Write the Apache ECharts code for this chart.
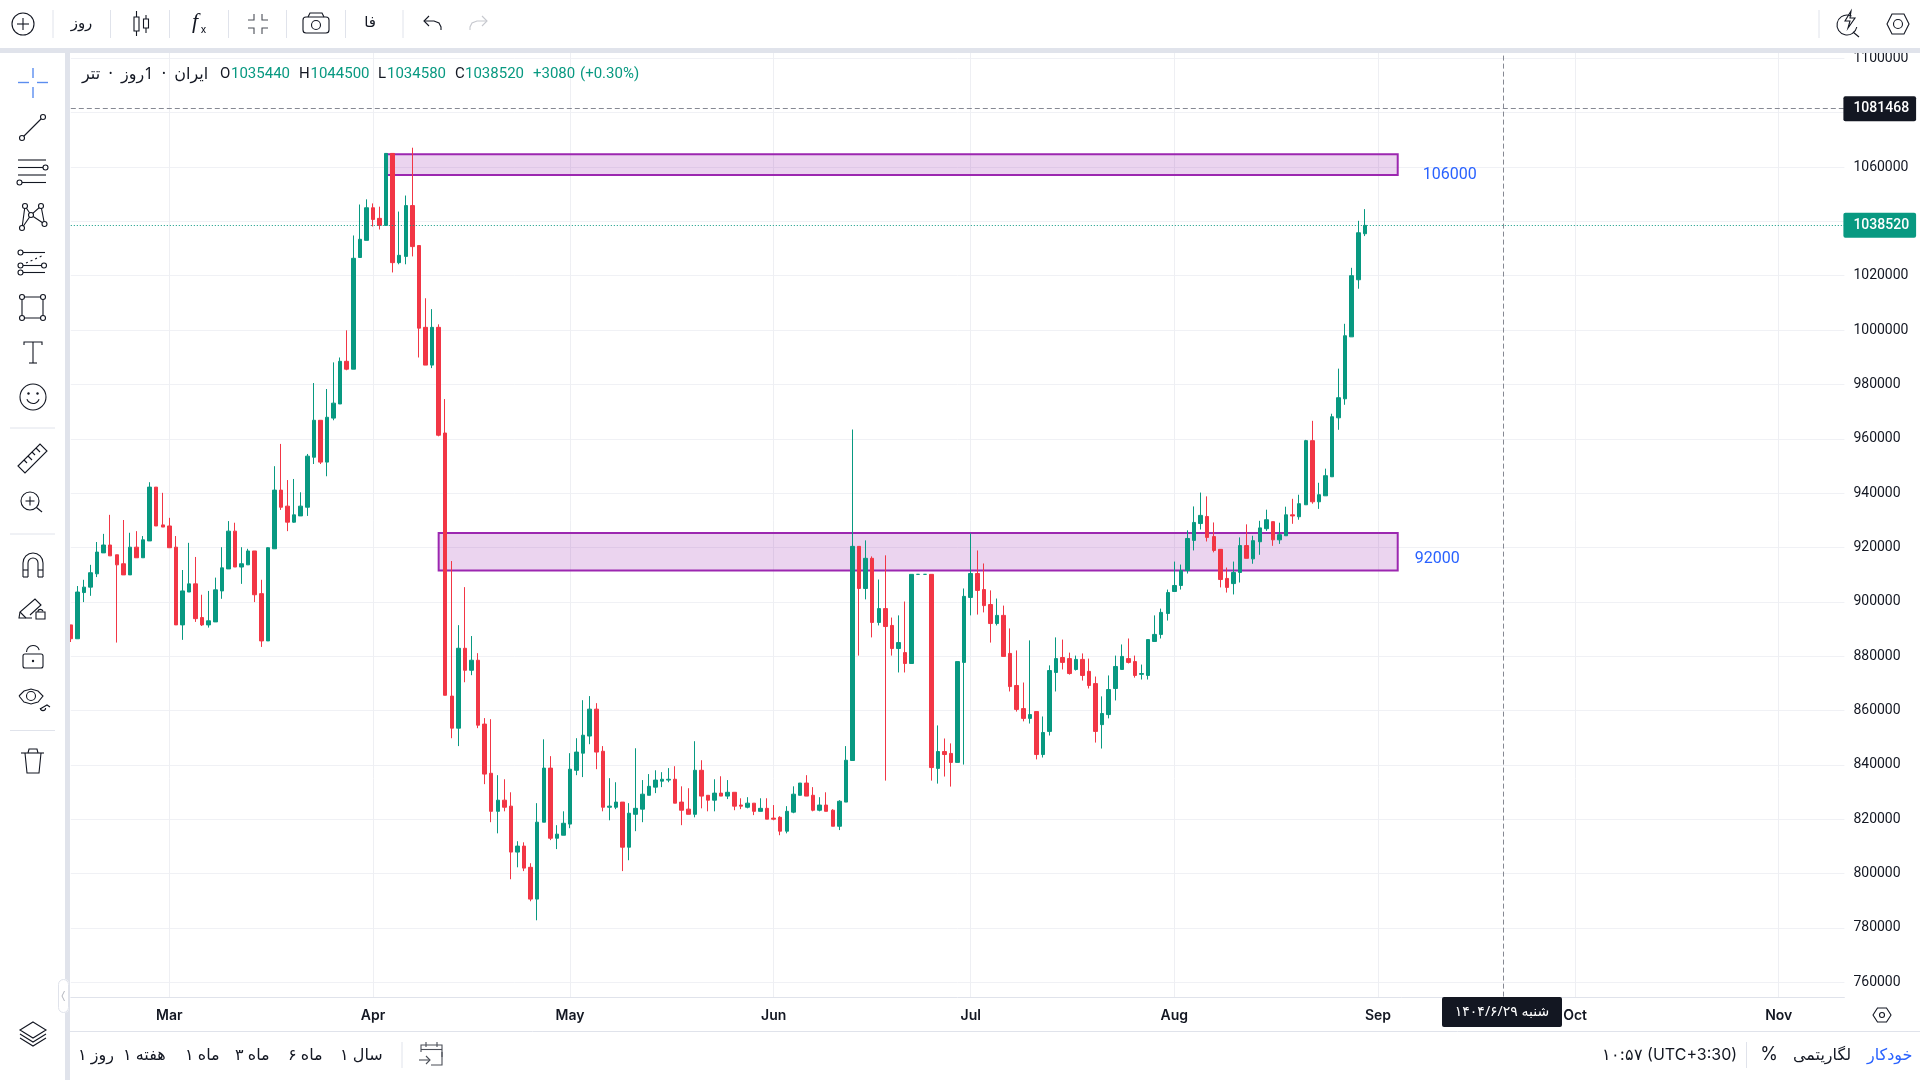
<!DOCTYPE html>
<html lang="fa">
<head>
<meta charset="utf-8">
<title>ایران · 1روز · تتر</title>
<style>html,body{margin:0;padding:0;background:#fff}#chart{width:1920px;height:1080px}</style>
<script src="https://cdn.jsdelivr.net/npm/echarts@6/dist/echarts.min.js"></script>
</head>
<body>
<div id="chart"></div>
<script>
// Daily prices, starting 14 Feb 2025
const opens = [
891500,886400,903400,905400,910300,918000,920900,917300,914000,909900,
920100,916200,922400,942200,928300,927900,920100,891500,903600,906600,
894200,891500,892600,904000,912100,926000,912800,913600,918700,903000,
885600,919500,941100,935200,929300,931600,934800,953200,966800,951400,
967600,972800,988500,985600,1026700,1033000,1045000,1041100,1038500,1065000,
1024800,1027100,1045800,1031100,1001000,987100,1001000,962100,865300,853500,
882900,874800,878500,855000,836900,822900,827000,824800,807900,810100,
802300,790600,818900,838800,813000,814100,818200,838000,844300,850600,
860500,845000,824400,824400,826300,809700,821800,823700,828800,831800,
834000,834400,834700,826300,823700,821800,838000,828800,827000,829600,
828500,829900,825200,824400,825900,822900,824000,820400,820700,815600,
822600,828800,833300,828800,823300,825200,823300,817400,826300,841600,
920400,904900,916000,892400,897500,891300,882800,881300,877300,910100,
910100,910100,838700,844900,844200,840900,877700,901600,910400,904500,
899000,892000,895000,881000,869200,860700,857100,859600,843800,852300,
874000,879500,879100,875100,878800,874400,869900,854800,858500,868100,
875100,879100,878000,873300,872900,885400,888000,895700,903800,906000,
911500,922600,928800,931400,924000,919300,908600,906700,910800,920700,
915800,922100,926900,929500,922800,924300,932000,931300,935700,959300,
936800,939000,946000,967700,974700,997500,1018500,1035440];
const highs = [
891500,905800,908100,913600,922000,925000,932000,917300,930100,925400,
926000,924200,944000,942200,940100,930900,924200,911700,921700,916500,
902600,904000,908900,920100,929700,929100,920100,919500,918700,908100,
920100,949900,958100,944800,945200,940300,954400,980500,966800,978300,
988100,989900,999900,1034800,1046200,1048100,1046600,1045400,1065000,1065000,
1043600,1049500,1067100,1031100,1011700,1007700,1002100,974600,915000,891400,
905400,887400,881100,857200,856800,836200,834700,829900,811900,811500,
803800,825900,849400,843200,817800,822900,844300,849800,863800,865300,
862700,846900,835100,833600,826300,825900,846100,834400,836600,838000,
837300,838800,839500,832100,831400,848700,841700,828800,834700,835800,
834400,829900,827700,828100,825900,827700,827700,825200,821100,824800,
832100,833300,836200,831800,828100,829900,823700,827000,846900,963400,
920400,922600,916700,908200,917100,894200,895000,900100,910100,910100,
910100,910100,854500,849700,847900,878000,904900,925200,918900,914100,
904200,901200,898600,890200,882100,870300,885800,859600,857800,876600,
886900,886100,881300,880200,881000,879100,872500,865200,872900,880200,
884300,886500,880200,876900,886100,895000,897500,904500,914800,913700,
926300,935100,940200,938800,929200,919300,912600,914800,923700,928500,
924300,929800,933900,929500,929100,935000,937900,939400,959600,966600,
943800,949000,969200,985800,1002300,1022900,1040200,1044500];
const lows = [
885200,886400,899900,902200,909100,918000,916900,885000,909900,909900,
916200,916200,922400,927900,927500,919900,891500,886000,903600,892600,
891100,890500,892600,901100,912100,912800,906600,913600,899900,883400,
885600,919500,933800,926000,929100,931600,931600,950700,950700,946200,
966800,972800,985200,985600,1026700,1033000,1038100,1037000,1038500,1021200,
1024200,1024200,1027100,989900,987100,986000,960900,865600,849800,846900,
870400,873000,853500,832900,818900,814800,822900,797900,802300,800900,
789800,782800,818900,812300,809000,814100,816700,836200,835500,847600,
838400,822900,819600,823700,800900,804900,815600,818900,828800,829600,
831800,833600,825900,817800,821800,820700,824000,822900,822900,828500,
827400,823300,823700,824000,821500,822900,820000,819600,814100,814800,
822200,828800,828500,822900,822900,822900,817400,816000,826300,841600,
880200,900900,886900,891300,834200,880200,874000,874000,877300,910100,
910100,834200,833100,835700,832000,840900,840100,895000,895300,896100,
885000,891300,879900,867000,859600,856000,855200,842000,842700,850800,
867000,875100,873200,874700,871000,868100,848200,846000,857100,863700,
875100,877300,872100,871400,871400,885400,886500,893100,903800,904500,
910400,918900,926600,922200,918200,905300,903400,902700,907100,916000,
914000,917300,926100,920600,921300,924300,928700,930200,935700,936100,
934200,939000,946000,963300,972500,997500,1015200,1034580];
const closes = [
886400,903600,905400,910700,918300,920900,916900,913600,909900,920100,
916200,922800,942200,927900,927500,919900,891500,904000,906600,893800,
891500,893000,904400,912500,926000,912800,914000,918700,902600,885600,
919900,941100,934800,929300,932000,935200,953600,966800,951400,967900,
973100,988500,985600,1026400,1033400,1045000,1040700,1038500,1065000,1024800,
1027500,1045800,1030700,1000700,987100,1001000,961300,865600,853500,882900,
874800,878500,854600,836600,822900,827000,824400,807900,810100,802000,
790600,818900,838800,813000,814500,818500,838400,844700,850900,860500,
844700,824400,824800,826300,809700,822200,824000,829200,832100,834400,
834700,834700,825900,823300,821800,838000,828500,827000,829600,828500,
829900,824800,824800,825900,822900,824000,820000,820000,815600,822900,
829200,833300,828500,823300,825200,822900,817400,826600,841700,920400,
904900,916000,892400,897500,890900,882800,885000,877300,910100,910100,
910100,839000,844900,843800,840900,878000,902000,910400,904200,898600,
892000,895000,879900,868800,860400,857100,858500,843800,851900,874700,
879100,877700,873600,878800,872900,869200,852300,858900,867700,876200,
879900,877700,872900,873600,886100,888000,896100,903400,906000,911500,
923300,929200,931800,923700,918900,908200,905300,910800,920700,916000,
922500,927200,930200,922800,924700,932000,931600,936100,959300,936800,
939400,946400,968100,975100,997900,1020000,1035800,1038520];

// Calendar for the time axis, running past the last candle into November
const dayCount = 271;
const categories = [];
for (let i = 0; i < dayCount; i++) {
  categories.push(new Date(Date.UTC(2025, 1, 14 + i)).toISOString().slice(0, 10));
}
const monthNames = {'2025-03-01':'Mar','2025-04-01':'Apr','2025-05-01':'May','2025-06-01':'Jun',
  '2025-07-01':'Jul','2025-08-01':'Aug','2025-09-01':'Sep','2025-10-01':'Oct','2025-11-01':'Nov'};
const isMonthStart = (idx, value) => Object.prototype.hasOwnProperty.call(monthNames, value);

const lastPrice = 1038520;
const cursorPrice = 1081468;
const cursorDate = '2025-09-20';
const zones = [
  {label:'106000', from:'2025-04-03', to:'2025-09-04', top:1064700, bottom:1057100, offset:[0,10], distance:24},
  {label:'92000',  from:'2025-04-11', to:'2025-09-04', top:925300,  bottom:911500,  offset:[0,7], distance:16}
];

const UP = '#089981', DOWN = '#f23645', INK = '#131722', BAND = '#e0e3eb', GRID = '#f0f1f5';
const NUM = 'Roboto, "Noto Sans", sans-serif';
const FA = '"Noto Sans", "DejaVu Sans", sans-serif';
const UI = 'Inter, "Noto Sans", sans-serif';

// Application frame: panels, toolbar icons and status texts
const MASK = 50, TOP = 60, TIP = 70;
const stroke = (c, w) => ({stroke: c || INK, lineWidth: w || 1.1, fill: 'none'});
const rectEl = (x, y, w, h, fill, r, z) => ({type:'rect', silent:true, z: z || MASK, shape:{x, y, width:w, height:h, r: r || 0}, style:{fill}});
const ln = (x1, y1, x2, y2, c, w) => ({type:'line', silent:true, z:TOP, shape:{x1, y1, x2, y2}, style:stroke(c, w)});
const dot = (cx, cy, r, c, w) => ({type:'circle', silent:true, z:TOP, shape:{cx, cy, r}, style:Object.assign(stroke(c, w), {fill:'#fff'})});
const disc = (cx, cy, r, c) => ({type:'circle', silent:true, z:TOP, shape:{cx, cy, r}, style:{fill:c || INK}});
const box = (x, y, w, h, c, r, w2) => ({type:'rect', silent:true, z:TOP, shape:{x, y, width:w, height:h, r: r || 0}, style:stroke(c, w2)});
const poly = (points, c, w) => ({type:'polyline', silent:true, z:TOP, shape:{points}, style:stroke(c, w)});
const gon = (points, c, w) => ({type:'polygon', silent:true, z:TOP, shape:{points}, style:stroke(c, w)});
const arc = (cx, cy, r, a, b, c, w) => ({type:'arc', silent:true, z:TOP, shape:{cx, cy, r, startAngle:a, endAngle:b, clockwise:true}, style:stroke(c, w)});
const txt = (text, x, y, fill, font, align, z) => ({type:'text', silent:true, z: z || TOP, x, y, style:{text, fill: fill || INK, font: font || ('14px ' + FA), align: align || 'left', verticalAlign:'middle'}});
const PI = Math.PI;

const frame = [
  rectEl(0, 0, 1920, 48, '#fff'),
  rectEl(0, 48, 1920, 5, BAND),
  rectEl(0, 53, 65, 1027, '#fff', 4),
  rectEl(65, 53, 5, 1027, BAND),
  rectEl(70, 998, 1850, 82, '#fff'),
  ln(70, 1031.5, 1920, 1031.5, BAND, 1),
  rectEl(58, 979, 11, 34, '#fff', 5),
  box(58.5, 979.5, 10, 33, BAND, 5, 1),
  poly([[64.5,991],[62,996],[64.5,1001]], '#b2b5be', 1)
];

// Top toolbar
[53, 110.5, 169.5, 228.5, 286.5, 345.5, 403, 1819].forEach(x => frame.push(ln(x, 10, x, 38, BAND, 1)));
frame.push(
  dot(23, 24, 11), ln(17, 24, 29, 24), ln(23, 18, 23, 30),
  txt('روز', 81.5, 24, INK, '15px ' + FA, 'center'),
  box(134, 17, 5, 14), ln(136.5, 11, 136.5, 17), ln(136.5, 31, 136.5, 36),
  box(143.5, 19, 5, 9), ln(146, 15, 146, 19), ln(146, 28, 146, 33),
  txt('f', 195, 22, INK, 'italic 22px "Liberation Serif", serif', 'center'),
  txt('x', 203.5, 30, INK, '11px ' + NUM, 'center'),
  poly([[248,20],[254,20],[254,14]], '#4a4e57'), poly([[268,20],[262,20],[262,14]], '#4a4e57'),
  poly([[248,28],[254,28],[254,34]], '#4a4e57'), poly([[268,28],[262,28],[262,34]], '#4a4e57'),
  box(303, 17, 26, 16, INK, 3), poly([[308,17],[310,13],[322,13],[324,17]]), dot(316, 25, 4.5),
  txt('فا', 370, 23, INK, '15px ' + FA, 'center'),
  poly([[429,16],[424,21],[429,26]]), poly([[424,21],[434,21],[439,23],[441,27],[441,30]]),
  poly([[482,16],[487,21],[482,26]], '#c6c8ce'), poly([[487,21],[477,21],[472,23],[470,27],[470,30]], '#c6c8ce'),
  arc(1847, 25, 10, 0.2, -1.1, INK), ln(1853, 32, 1859, 37),
  gon([[1851,11],[1845,21],[1850,21],[1848,28],[1855,18],[1850,18]]),
  gon([[1887,24],[1892,14],[1904,14],[1909,24],[1904,34],[1892,34]]), dot(1898, 24, 4.5),
  gon([[1873,1015],[1877.5,1008],[1886.5,1008],[1891,1015],[1886.5,1022],[1877.5,1022]]), dot(1882, 1015, 2.5)
);

// Drawing tools down the left side
const TOOL_BLUE = '#5b8def';
frame.push(
  ln(18, 82.5, 29, 82.5, TOOL_BLUE, 1.4), ln(37, 82.5, 48, 82.5, TOOL_BLUE, 1.4),
  ln(33, 68, 33, 78, TOOL_BLUE, 1.4), ln(33, 87, 33, 98, TOOL_BLUE, 1.4),
  ln(22, 138, 43, 117), dot(22, 138, 2.5), dot(43, 117, 2.5),
  ln(18, 160, 46, 160), ln(18, 167.5, 43, 167.5), ln(18, 175, 46, 175), ln(22, 182.5, 46, 182.5),
  dot(45.5, 167.5, 2.5), dot(19.5, 182.5, 2.5),
  poly([[22,228],[25,206],[31,215],[41,206],[44.5,224],[31,215],[22,228]]),
  dot(22, 228, 2.5), dot(25, 206, 2.5), dot(31, 215, 2.5), dot(41, 206, 2.5), dot(44.5, 224, 2.5),
  ln(22, 252.5, 45, 252.5), ln(22, 265.5, 45, 265.5), ln(22, 272.5, 45, 272.5),
  dot(20.5, 252.5, 2.5), dot(20.5, 265.5, 2.5), dot(44, 265.5, 2.5), dot(20.5, 272.5, 2.5),
  {type:'line', silent:true, z:TOP, shape:{x1:26,y1:263,x2:44,y2:255}, style:{stroke:INK, lineWidth:1.1, lineDash:[2,3]}},
  box(22, 297, 21, 21), dot(22, 297, 2.5), dot(43, 297, 2.5), dot(22, 318, 2.5), dot(43, 318, 2.5),
  poly([[24,345],[24,342],[42,342],[42,345]]), ln(33, 342, 33, 363), ln(29, 363, 37, 363),
  dot(33, 397, 13), disc(28.5, 393.5, 1.2), disc(37.5, 393.5, 1.2), arc(33, 397, 6.5, 0.35, PI - 0.35),
  ln(10, 428, 55, 428, BAND, 1),
  gon([[18,466],[40,444],[47,451],[25,473]]),
  ln(24,460,27,463), ln(28,456,32,460), ln(32,452,35,455), ln(36,448,40,452),
  dot(30, 501, 9), ln(25.5, 501, 34.5, 501), ln(30, 496.5, 30, 505.5), ln(36.5, 507.5, 42, 512),
  ln(10, 534, 55, 534, BAND, 1),
  arc(33, 563, 10, PI, 0), arc(33, 563, 5, PI, 0),
  ln(23, 563, 23, 577), ln(28, 563, 28, 577), ln(38, 563, 38, 577), ln(43, 563, 43, 577),
  ln(23, 577, 28, 577), ln(38, 577, 43, 577), ln(23, 570, 28, 570), ln(38, 570, 43, 570),
  poly([[32,618],[26,618],[19,618],[20,612],[35,599],[41,605],[30,615]]), ln(20, 612, 26, 618),
  box(36, 612, 9, 7), arc(40.5, 612, 2.6, PI, -0.2),
  box(23, 654, 20, 14, INK, 2), arc(33, 652, 6.5, PI, -0.3), disc(33, 661, 1.2),
  poly([[19,696],[24,691],[31,689],[38,691],[43,696],[38,702],[31,704],[24,702],[19,696]]), dot(31, 696, 4.5),
  poly([[40,709],[47,705],[50,707]]), arc(43, 708, 2.6, 0, PI),
  ln(10, 730.5, 55, 730.5, BAND, 1),
  ln(21, 753, 44, 753), poly([[25,753],[27,773],[39,773],[41,753]]), poly([[28,753],[29,749],[37,749],[38,753]]),
  gon([[33,1022],[46,1030],[33,1038],[20,1030]]),
  poly([[20,1034],[33,1042],[46,1034]]), poly([[20,1038],[33,1046],[46,1038]])
);

// Legend line and status bar
frame.push(
  txt('\u202Bایران  ·  1روز  ·  تتر\u202C', 82, 74, INK, '16px ' + FA),
  txt('O', 220, 74, INK, '15px ' + NUM), txt('1035440', 231, 74, UP, '15px ' + NUM),
  txt('H', 299, 74, INK, '15px ' + NUM), txt('1044500', 310.5, 74, UP, '15px ' + NUM),
  txt('L', 378, 74, INK, '15px ' + NUM), txt('1034580', 387, 74, UP, '15px ' + NUM),
  txt('C', 455, 74, INK, '15px ' + NUM), txt('1038520', 465, 74, UP, '15px ' + NUM),
  txt('+3080', 533, 74, UP, '15px ' + NUM), txt('(+0.30%)', 580, 74, UP, '15px ' + NUM)
);
[['۱ روز', 78], ['۱ هفته', 123], ['۱ ماه', 185], ['۳ ماه', 235], ['۶ ماه', 288], ['۱ سال', 340]]
  .forEach(([t, x]) => frame.push(txt(t, x, 1055, INK, '16px ' + FA)));
frame.push(
  ln(402, 1042, 402, 1068, BAND, 1), ln(1746.5, 1042, 1746.5, 1068, BAND, 1),
  poly([[442,1057],[442,1045],[421,1045],[421,1052]], '#4a4e57'), ln(421, 1049.5, 442, 1049.5, '#4a4e57'),
  ln(426, 1042, 426, 1047, '#4a4e57'), ln(437, 1042, 437, 1047, '#4a4e57'),
  poly([[442,1052],[442,1065],[431,1065]], '#4a4e57'), ln(419, 1060, 430, 1060, '#4a4e57'),
  poly([[426,1056],[430,1060],[426,1064]], '#4a4e57'),
  txt('۱۰:۵۷ (UTC+3:30)', 1602, 1055, INK, '16px ' + UI),
  txt('%', 1769, 1055, INK, '18px ' + UI, 'center'),
  txt('لگاریتمی', 1793, 1055, INK, '16px ' + FA),
  txt('خودکار', 1867, 1055, '#2962ff', '16px ' + FA),
  rectEl(1442, 997, 120, 30, INK, 2, TIP),
  txt('۱۴۰۴/۶/۲۹ شنبه', 1502, 1012, '#fff', '14px ' + FA, 'center', TIP + 1)
);

const priceTag = (bg) => ({
  show:true, position:'end', distance:-1, formatter:p => String(p.value),
  color:'#fff', backgroundColor:bg, fontFamily:NUM, fontSize:14, fontWeight:500,
  padding:[8,7,3,10], borderRadius:2
});

const option = {
  animation:false,
  backgroundColor:'#fff',
  textStyle:{fontFamily:NUM},
  graphic:{elements:frame},
  grid:[
    {left:70.8, width:1773.6, top:3.95, height:1032.65, outerBoundsMode:'none'},
    {left:70.8, width:1773.6, top:996.5, height:1, outerBoundsMode:'none'}
  ],
  xAxis:[
    {type:'category', gridIndex:0, data:categories, boundaryGap:false,
     axisLine:{show:false}, axisTick:{show:false}, axisLabel:{show:false},
     splitLine:{show:true, interval:isMonthStart, lineStyle:{color:'#eeeff3', width:1}}},
    {type:'category', gridIndex:1, data:categories, boundaryGap:false, z:TOP,
     axisLine:{show:true, lineStyle:{color:BAND, width:1}}, axisTick:{show:false}, splitLine:{show:false},
     axisLabel:{show:true, interval:isMonthStart, formatter:v => monthNames[v] || '',
       margin:11, color:INK, fontFamily:UI, fontSize:14, fontWeight:600}}
  ],
  yAxis:[
    {type:'value', gridIndex:0, position:'right', min:740000, max:1120000, interval:20000,
     axisLine:{show:false}, axisTick:{show:false}, showMinLabel:false, showMaxLabel:false,
     axisLabel:{margin:9, color:INK, fontFamily:NUM, fontSize:14, padding:[5,0,0,0], formatter:v => String(v)},
     splitLine:{show:true, lineStyle:{color:GRID, width:1}}},
    {type:'value', gridIndex:1, show:false, min:0, max:1}
  ],
  series:[{
    type:'candlestick',
    xAxisIndex:0, yAxisIndex:0,
    barWidth:4,
    data:opens.map((o, i) => [o, closes[i], lows[i], highs[i]]),
    itemStyle:{color:UP, color0:DOWN, borderColor:UP, borderColor0:DOWN, borderColorDoji:UP, borderWidth:1},
    markArea:{
      silent:true,
      itemStyle:{color:'rgba(156,39,176,0.2)', borderColor:'#9c27b0', borderWidth:2},
      data:zones.map(z => [
        {xAxis:z.from, yAxis:z.top, name:z.label,
         label:{show:true, position:'right', distance:z.distance, offset:z.offset, formatter:'{b}',
                color:'#2962ff', fontFamily:NUM, fontSize:16}},
        {xAxis:z.to, yAxis:z.bottom}
      ])
    },
    markLine:{
      silent:true, symbol:'none', animation:false, precision:0,
      data:[
        {yAxis:lastPrice, lineStyle:{color:UP, type:[1,2], width:1}, label:priceTag(UP)},
        {yAxis:cursorPrice, lineStyle:{color:'#868993', type:[5,3], width:1}, label:priceTag(INK)},
        {xAxis:cursorDate, lineStyle:{color:'#868993', type:[5,3], width:1}, label:{show:false}}
      ]
    }
  }]
};

const chart = echarts.init(document.getElementById('chart'));
chart.setOption(option);
</script>
</body>
</html>
